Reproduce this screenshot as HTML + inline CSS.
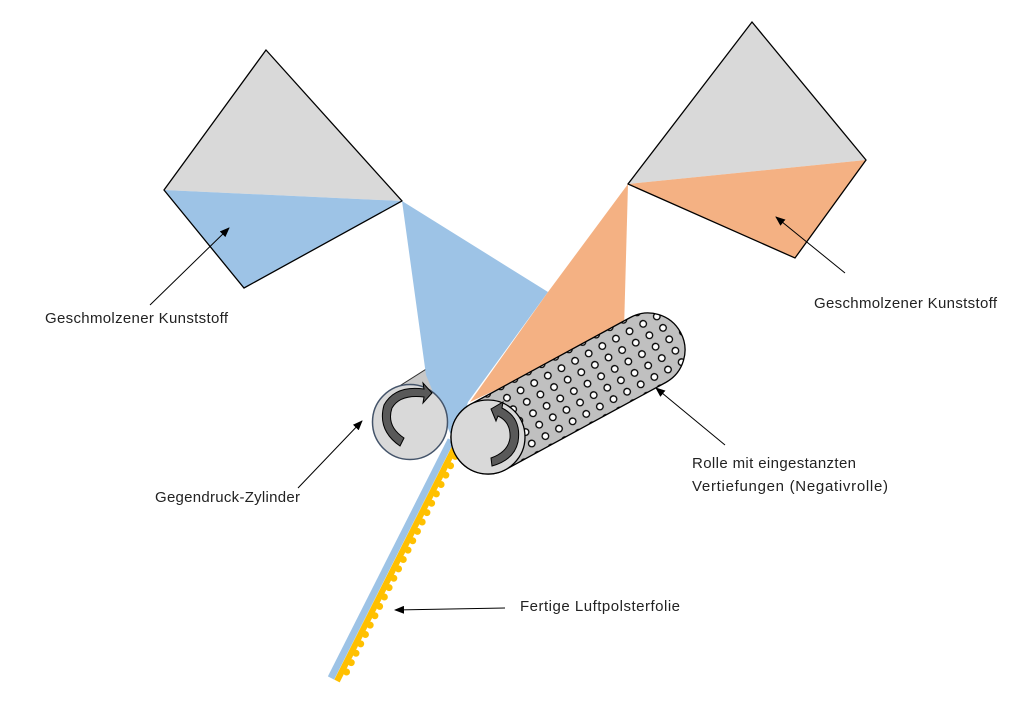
<!DOCTYPE html>
<html><head><meta charset="utf-8"><style>html,body{margin:0;padding:0;background:#fff;}svg{display:block}</style></head>
<body>
<svg width="1024" height="712" viewBox="0 0 1024 712" xmlns="http://www.w3.org/2000/svg" font-family="Liberation Sans, sans-serif" font-size="15" fill="#222">
<defs>
<marker id="ah" markerWidth="10" markerHeight="8" refX="9" refY="4" orient="auto" markerUnits="userSpaceOnUse">
<path d="M0,0 L10,4 L0,8 Z" fill="#000"/></marker>
<pattern id="dots" width="15.5" height="13" patternUnits="userSpaceOnUse" patternTransform="rotate(-28.5)">
<rect width="15.5" height="13" fill="#c0c0c0"/>
<circle cx="7.7" cy="6.5" r="3.3" fill="#fff" stroke="#000" stroke-width="1.3"/>
</pattern>
</defs>

<polygon points="266,50 402,201 164,190" fill="#d9d9d9"/>
<polygon points="164,190 402,201 244,288" fill="#9dc3e6"/>
<polygon points="266,50 402,201 244,288 164,190" fill="none" stroke="#000" stroke-width="1.3"/>
<polygon points="752,22 866,160 628,184" fill="#d9d9d9"/>
<polygon points="628,184 866,160 795,258" fill="#f4b183"/>
<polygon points="752,22 866,160 795,258 628,184" fill="none" stroke="#000" stroke-width="1.3"/>

<polygon points="390,392 428,368 446,400 420,440" fill="#c8c8c8" stroke="#333" stroke-width="1"/>

<polygon points="402,201 548,292 468,402 455,445 426,375" fill="#9dc3e6"/>
<polygon points="628,184 624,330 470,402 548,292" fill="#f4b183"/>

<line x1="451" y1="440" x2="331" y2="678" stroke="#9dc3e6" stroke-width="7"/>
<line x1="457" y1="443" x2="337" y2="681" stroke="#ffc000" stroke-width="6"/>
<line x1="460" y1="447" x2="342" y2="681" stroke="#ffc000" stroke-width="7" stroke-linecap="round" stroke-dasharray="0 10.5"/>

<circle cx="410" cy="422" r="37.5" fill="#d9d9d9" stroke="#44546a" stroke-width="1.5"/>
<path d="M432,393 L423,383 L424,389 Q395,385 384,405 Q377,430 400,446 L404,438 Q386,426 392,408 Q400,394 424,397 L423,403 Z" fill="#595959" stroke="#000" stroke-width="1"/>

<path d="M470.3,404.5 L630.3,317.5 A37 37 0 0 1 665.7,382.5 L505.7,469.5 A37 37 0 0 1 470.3,404.5 Z" fill="url(#dots)" stroke="#000" stroke-width="1.3"/>
<circle cx="488" cy="437" r="37" fill="#d9d9d9" stroke="#000" stroke-width="1.3"/>
<path d="M491,409 L503,402 L502,408 Q522,418 518,442 Q514,460 492,466 L491,458 Q508,452 510,438 Q511,422 498,416 L496,421 Z" fill="#595959" stroke="#000" stroke-width="1"/>

<line x1="150" y1="305" x2="229" y2="228" stroke="#000" marker-end="url(#ah)"/>
<text x="45" y="323" textLength="183">Geschmolzener Kunststoff</text>
<line x1="845" y1="273" x2="776" y2="217" stroke="#000" marker-end="url(#ah)"/>
<text x="814" y="308" textLength="183">Geschmolzener Kunststoff</text>
<line x1="298" y1="488" x2="362" y2="421" stroke="#000" marker-end="url(#ah)"/>
<text x="155" y="502" textLength="145">Gegendruck-Zylinder</text>
<line x1="725" y1="445" x2="656" y2="388" stroke="#000" marker-end="url(#ah)"/>
<text x="692" y="468" textLength="164">Rolle mit eingestanzten</text>
<text x="692" y="491" textLength="196">Vertiefungen (Negativrolle)</text>
<line x1="505" y1="608" x2="395" y2="610" stroke="#000" marker-end="url(#ah)"/>
<text x="520" y="611" textLength="160">Fertige Luftpolsterfolie</text>
</svg>
</body></html>
